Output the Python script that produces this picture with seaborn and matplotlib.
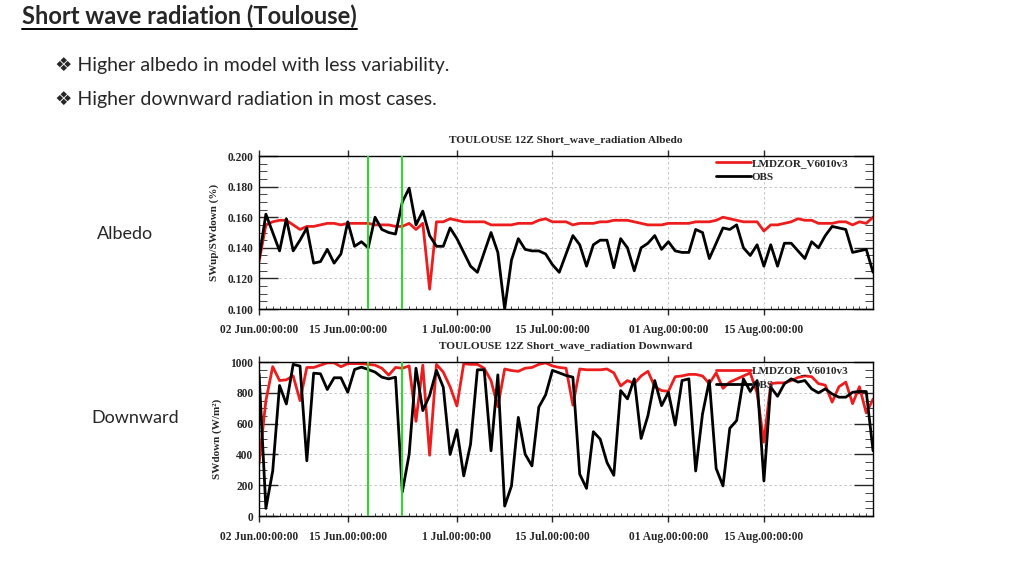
import pandas as pd
import matplotlib
matplotlib.use("Agg")
import matplotlib.pyplot as plt
import matplotlib.ticker as mticker
from matplotlib.lines import Line2D
import seaborn as sns

sns.set_style("white")
plt.rcParams['font.family'] = ['Lato', 'DejaVu Sans']

# Data: daily 12Z values, 02 Jun -> 31 Aug
dates = pd.date_range("2014-06-02", "2014-08-31", freq="D")

model_albedo = [0.131, 0.155, 0.157, 0.158, 0.158, 0.155, 0.152, 0.154, 0.154, 0.155,
                0.156, 0.156, 0.155, 0.156, 0.156, 0.156, 0.156, 0.155, 0.155, 0.155,
                0.154, 0.154, 0.156, 0.152, 0.156, 0.113, 0.157, 0.157, 0.159, 0.158,
                0.157, 0.157, 0.157, 0.157, 0.155, 0.155, 0.155, 0.155, 0.156, 0.156,
                0.156, 0.158, 0.159, 0.157, 0.157, 0.157, 0.155, 0.156, 0.156, 0.156,
                0.157, 0.157, 0.158, 0.158, 0.158, 0.157, 0.156, 0.155, 0.155, 0.155,
                0.156, 0.156, 0.156, 0.156, 0.157, 0.157, 0.157, 0.158, 0.160, 0.159,
                0.158, 0.157, 0.157, 0.157, 0.151, 0.155, 0.155, 0.156, 0.157, 0.159,
                0.158, 0.158, 0.156, 0.156, 0.156, 0.157, 0.157, 0.155, 0.157, 0.156,
                0.160]
obs_albedo = [0.133, 0.162, 0.150, 0.138, 0.159, 0.138, 0.145, 0.153, 0.130, 0.131,
              0.139, 0.130, 0.136, 0.157, 0.141, 0.144, 0.140, 0.160, 0.152, 0.150,
              0.149, 0.170, 0.179, 0.155, 0.164, 0.148, 0.141, 0.141, 0.153, 0.146,
              0.137, 0.128, 0.124, 0.137, 0.150, 0.137, 0.100, 0.132, 0.146, 0.139,
              0.138, 0.138, 0.136, 0.129, 0.124, 0.136, 0.148, 0.142, 0.128, 0.142,
              0.145, 0.145, 0.127, 0.146, 0.140, 0.125, 0.140, 0.143, 0.148, 0.139,
              0.144, 0.138, 0.137, 0.137, 0.152, 0.150, 0.133, 0.143, 0.153, 0.152,
              0.155, 0.140, 0.135, 0.142, 0.128, 0.142, 0.128, 0.143, 0.143, 0.138,
              0.133, 0.144, 0.140, 0.148, 0.154, 0.153, 0.152, 0.137, 0.138, 0.139,
              0.124]

model_down = [340, 750, 970, 880, 885, 910, 750, 965, 965, 980,
              995, 995, 970, 990, 990, 990, 985, 980, 960, 915,
              965, 960, 975, 615, 980, 395, 985, 935, 840, 715,
              990, 985, 985, 960, 880, 710, 955, 945, 940, 960,
              965, 985, 995, 975, 965, 960, 720, 955, 950, 950,
              950, 955, 930, 845, 880, 860, 910, 940, 840, 815,
              810, 905, 910, 920, 920, 910, 860, 930, 830, 870,
              890, 910, 930, 800, 480, 860, 865, 865, 880, 900,
              910, 905, 860, 850, 740, 840, 870, 730, 840, 670,
              760]
obs_down = [924, 50, 293, 848, 728, 985, 974, 359, 928, 924,
            822, 898, 898, 804, 952, 967, 952, 935, 902, 891,
            902, 157, 402, 960, 685, 783, 946, 837, 400, 560,
            261, 467, 950, 950, 424, 917, 65, 196, 641, 402,
            326, 707, 787, 946, 930, 913, 902, 272, 180, 548,
            500, 348, 265, 815, 761, 891, 504, 652, 880, 717,
            804, 591, 880, 891, 293, 663, 880, 309, 196, 570,
            620, 891, 809, 880, 228, 837, 778, 859, 891, 870,
            880, 826, 800, 826, 793, 772, 772, 804, 809, 809,
            424]

marker_days = ["2014-06-18", "2014-06-23"]
tick_days = ["2014-06-02", "2014-06-15", "2014-07-01", "2014-07-15", "2014-08-01", "2014-08-15"]
tick_labels = ["02 Jun.00:00:00", "15 Jun.00:00:00", "1 Jul.00:00:00",
               "15 Jul.00:00:00", "01 Aug.00:00:00", "15 Aug.00:00:00"]

RED = "#ee1d1d"
GREEN = "#22dd22"
serif = "Liberation Serif"

fig = plt.figure(figsize=(10.24, 5.76), dpi=100)
ax1 = fig.add_axes([0.253, 0.4635, 0.5996, 0.2656])
ax2 = fig.add_axes([0.253, 0.104, 0.5996, 0.2674])


def style_panel(ax, obs, model, title, ylabel, ylim, ymajor, yminor, yfmt, leg_y):
    sns.lineplot(x=dates, y=model, ax=ax, color=RED, lw=2.0, label="LMDZOR_V6010v3")
    sns.lineplot(x=dates, y=obs, ax=ax, color="black", lw=2.0, label="OBS")
    for d in marker_days:
        ax.axvline(pd.Timestamp(d), color=GREEN, lw=1.4, zorder=5)
    ax.set_xlim(dates[0], dates[-1])
    ax.set_ylim(*ylim)
    ax.set_xticks([pd.Timestamp(d) for d in tick_days])
    ax.set_xticklabels(tick_labels)
    ax.xaxis.set_minor_locator(mticker.FixedLocator(
        [matplotlib.dates.date2num(d) for d in dates]))
    ax.yaxis.set_major_locator(mticker.MultipleLocator(ymajor))
    ax.yaxis.set_minor_locator(mticker.MultipleLocator(yminor))
    ax.yaxis.set_major_formatter(mticker.FormatStrFormatter(yfmt))
    ax.tick_params(axis="x", which="major", direction="out", length=4, width=1,
                   top=True, bottom=True, pad=6.5)
    ax.tick_params(axis="x", which="minor", direction="in", length=2.5, width=0.6,
                   top=False, bottom=True)
    ax.tick_params(axis="y", which="major", direction="in", length=14, width=1,
                   left=True, right=True, pad=4)
    ax.tick_params(axis="y", which="minor", direction="in", length=6, width=0.6,
                   left=True, right=True)
    for lab in ax.get_xticklabels() + ax.get_yticklabels():
        lab.set_family(serif)
        lab.set_weight("bold")
        lab.set_fontsize(8.3)
    ax.grid(True, which="major", ls=(0, (3, 3)), color="#bbbbbb", lw=0.6)
    for s in ax.spines.values():
        s.set_color("black")
        s.set_linewidth(1.0)
    ax.set_title(title, family=serif, weight="bold", fontsize=8.2, pad=10)
    ax.set_ylabel(ylabel, family=serif, weight="bold", fontsize=8, labelpad=6)
    ax.set_xlabel("")
    ax.legend(loc="upper left", bbox_to_anchor=(0.74, leg_y), frameon=False,
              handlelength=3.2, handletextpad=0.05, labelspacing=0.4,
              borderaxespad=0, borderpad=0.2,
              prop={"family": serif, "weight": "bold", "size": 8})


style_panel(ax1, obs_albedo, model_albedo, "TOULOUSE 12Z Short_wave_radiation Albedo",
            "SWup/SWdown (%)", (0.100, 0.200), 0.020, 0.005, "%.3f", 1.0)
style_panel(ax2, obs_down, model_down, "TOULOUSE 12Z Short_wave_radiation Downward",
            "SWdown (W/m²)", (0, 1000), 200, 50, "%d", 0.99)

# slide text
title = fig.text(22 / 1024, 1 - 16 / 576, "Short wave radiation (Toulouse)",
                 fontsize=17, weight="bold", va="center", ha="left")
fig.text(55 / 1024, 1 - 65 / 576, "❖ Higher albedo in model with less variability.",
         fontsize=14, va="center", ha="left")
fig.text(55 / 1024, 1 - 99 / 576, "❖ Higher downward radiation in most cases.",
         fontsize=14, va="center", ha="left")
fig.text(125 / 1024, 1 - 234 / 576, "Albedo", fontsize=13, va="center", ha="center")
fig.text(135 / 1024, 1 - 418 / 576, "Downward", fontsize=13, va="center", ha="center")

fig.canvas.draw()
bb = title.get_window_extent().transformed(fig.transFigure.inverted())
fig.add_artist(Line2D([bb.x0, bb.x1], [bb.y0 - 1.0 / 576] * 2,
                      transform=fig.transFigure, color="black", lw=1.4))

fig.savefig("out.png", dpi=100)
